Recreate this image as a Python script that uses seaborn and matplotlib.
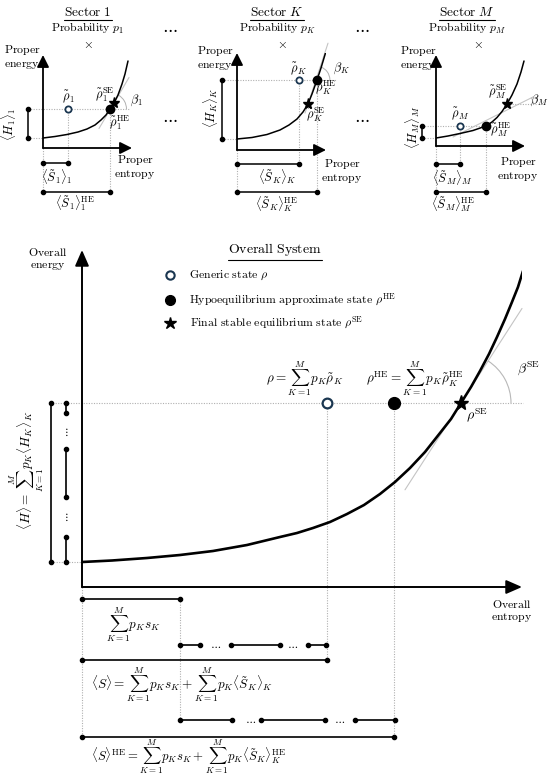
import numpy as np
import pandas as pd
import matplotlib
matplotlib.use("Agg")
import matplotlib.pyplot as plt
import seaborn as sns
from matplotlib.patches import Arc

# ---------------- data (local entropy / energy units) ----------------
main_S = [0, 30, 65, 98, 131, 165, 198, 215, 231, 248, 265, 282, 298, 313, 328, 343, 358, 369, 379, 389, 398, 407, 415, 423, 430, 436, 441]
main_H = [25, 26.5, 29, 32, 36, 42, 50, 54, 59, 65, 73, 82, 93, 105, 119, 135, 154, 168, 184, 200, 216, 233, 250, 268, 285, 300, 316]
main_level = 184          # <H>
main_base = 25            # ground energy
S_generic = 245           # <S>
S_HE = 312                # <S>^HE
S_SE = 379
sum_ps = 98               # sum p_K s_K
row_S_segments = [(98, 118), (149, 198), (226, 244)]
row_S_ellipses = [134, 211]
row_HE_segments = [(98, 150), (179, 243), (273, 313)]
row_HE_ellipses = [169, 258]
col_H_segments = [(184, 174), (138, 90), (50, 25)]
col_H_ellipses = [155, 70]
beta_SE_slope = 1.55

sec1_S = [0, 12, 24, 35, 44, 52, 58, 63, 67, 71, 75, 79, 82, 85]
sec1_H = [10, 11.5, 13.5, 16, 19, 23, 28, 33, 39, 45, 53, 64, 74, 87]
secK_S = [0, 15, 30, 43, 52, 60, 66, 71, 75, 80, 84, 87, 90]
secK_H = [11, 12.5, 15.5, 20, 25, 31, 38, 46, 56, 70, 82, 92, 102]
secM_S = [0, 12, 24, 37, 50, 56, 61, 66, 71, 76, 81, 85, 88]
secM_H = [8, 10, 12.5, 15.5, 20, 24, 28.5, 34.5, 42, 51, 62, 74, 85]

sector_ids = ["1", "K", "M"]
sector_level = [39, 70, 20]
sector_base = [10, 11, 8]
sector_S_generic = [25, 62, 24]
sector_S_HE = [67, 80, 50]
sector_star_S = [71, 71, 71]
sector_star_H = [45, 46, 42]
sector_slope = [1.7, 3.04, 0.5]

# ---------------- style ----------------
sns.set_theme(style="white")
plt.rcParams["mathtext.fontset"] = "cm"
plt.rcParams["font.family"] = ["DejaVu Serif"]
plt.rcParams["lines.solid_joinstyle"] = "round"

FW, FH = 550, 778
fig = plt.figure(figsize=(5.5, 7.78), dpi=100)
fig.patch.set_facecolor("white")

DOT = dict(color="#b0b0b0", lw=0.8, ls=(0, (1, 1.3)), clip_on=False, zorder=1)
GRAY = dict(color="#c4c4c4", lw=0.8, clip_on=False, zorder=1)
CIRC = "#1a3650"


def panel(x0, y0, w, h):
    ax = fig.add_axes([x0 / FW, (FH - y0) / FH, w / FW, h / FH])
    ax.set_xlim(0, w)
    ax.set_ylim(0, h)
    ax.axis("off")
    ax.patch.set_alpha(0)
    return ax


def arrows(ax, w, h, lw, hl, hw):
    st = f"-|>,head_length={hl},head_width={hw}"
    for xy in [(w, 0), (0, h)]:
        ax.annotate("", xy=xy, xytext=(0, 0), annotation_clip=False,
                    arrowprops=dict(arrowstyle=st, color="black", lw=lw,
                                    shrinkA=0, shrinkB=0))


def bar(ax, xs, ys, lw=1.1, ms=3):
    ax.plot(xs, ys, color="black", lw=lw, marker="o", ms=ms, clip_on=False, zorder=3)


def txt(ax, x, y, s, fs=8, **kw):
    kw.setdefault("ha", "center")
    kw.setdefault("va", "center")
    return ax.text(x, y, s, fontsize=fs, color="black", clip_on=False, **kw)


def underline(ax, t, off=1.5, lw=0.8):
    fig.canvas.draw()
    bb = t.get_window_extent()
    inv = ax.transData.inverted()
    (xa, ya), (xb, yb) = inv.transform([[bb.x0, bb.y0], [bb.x1, bb.y1]])
    ax.plot([xa, xb], [ya - off, ya - off], color="black", lw=lw, clip_on=False)


# ---------------- sector panels ----------------
sec_curves = [(sec1_S, sec1_H), (secK_S, secK_H), (secM_S, secM_H)]
sec_layout = [
    dict(origin=(43, 148), h=93, title=(45, 136), prob=(45, 120), times=(45, 104),
         pe=(-21, 91), pent=(92, -19), lrho=(25, 51), lse=(62, 53), lhe=(77, 25),
         lbeta=(93, 48), lH=(-35, 24), lS=(14, -29), lSHE=(32, -55),
         lev=(-15, 87), hx=-15, yS=-15, ySHE=-44, tan=(56, 86), arc="level", r=16),
    dict(origin=(237, 150), h=97, title=(40, 138), prob=(40, 122), times=(45, 106),
         pe=(-22, 92), pent=(105, -21), lrho=(61, 81), lse=(79, 35), lhe=(89, 62),
         lbeta=(104, 82), lH=(-27, 42), lS=(40, -27), lSHE=(40, -54),
         lev=(-15, 100), hx=-15, yS=-14, ySHE=-42, tan=(68, 91), arc="level", r=14),
    dict(origin=(436, 146), h=91, title=(31, 134), prob=(31, 118), times=(42, 102),
         pe=(-18, 88), pent=(82, -23), lrho=(24, 32), lse=(62, 54), lhe=(65, 16),
         lbeta=(103, 46), lH=(-24, 19), lS=(17, -32), lSHE=(17, -58),
         lev=(-14, 50), hx=-14, yS=-18, ySHE=-46, tan=(17, 97), arc="star", r=14),
]

sector_axes = []
for i, k in enumerate(sector_ids):
    L = sec_layout[i]
    ax = panel(L["origin"][0], L["origin"][1], 89, L["h"])
    sector_axes.append(ax)
    arrows(ax, 89, L["h"], 1.3, 0.6, 0.3)
    S, H = sec_curves[i]
    sns.lineplot(x=S, y=H, ax=ax, color="black", lw=1.1, sort=False, estimator=None)
    lev, base = sector_level[i], sector_base[i]
    sg, she = sector_S_generic[i], sector_S_HE[i]
    ss, sh = sector_star_S[i], sector_star_H[i]
    m = sector_slope[i]
    sub = k
    # dotted guides
    ax.plot(list(L["lev"]), [lev, lev], **DOT)
    ax.plot([L["hx"], 0], [base, base], **DOT)
    ax.plot([0, 0], [0, L["ySHE"]], **DOT)
    ax.plot([sg, sg], [lev, L["yS"]], **DOT)
    ax.plot([she, she], [lev, L["ySHE"]], **DOT)
    # tangent + angle
    t0, t1 = L["tan"]
    if L["arc"] == "level":
        ax.plot([t0, t1], [sh + m * (t0 - ss), sh + m * (t1 - ss)], **GRAY)
        cx, cy = ss + (lev - sh) / m, lev
    else:
        # tangent near the HE state, angle measured on the SE level
        y0 = lev - 11
        ax.plot([t0, t1], [y0, y0 + m * (t1 - t0)], **GRAY)
        cx, cy = t0 + (sh - y0) / m, sh
        ax.plot([ss, cx + L["r"] + 3], [sh, sh], **DOT)
    ang = np.degrees(np.arctan(m))
    ax.add_patch(Arc((cx, cy), 2 * L["r"], 2 * L["r"], theta1=0, theta2=ang,
                     color="#b0b0b0", lw=0.7, clip_on=False))
    # bars
    bar(ax, [L["hx"], L["hx"]], [base, lev])
    bar(ax, [0, sg], [L["yS"], L["yS"]])
    bar(ax, [0, she], [L["ySHE"], L["ySHE"]])
    # states
    ax.plot([sg], [lev], marker="o", ms=4.5, mfc="white", mec=CIRC, mew=1.3, clip_on=False, zorder=5)
    ax.plot([she], [lev], marker="o", ms=6, color="black", clip_on=False, zorder=5)
    ax.plot([ss], [sh], marker="*", ms=8, color="black", clip_on=False, zorder=6)
    # texts
    tt = txt(ax, *L["title"], r"$\mathrm{Sector}\ " + (r"\mathrm{1}" if k == "1" else k) + "$", fs=9.5)
    underline(ax, tt)
    txt(ax, *L["prob"], r"$\mathrm{Probability}\ p_{" + sub + "}$", fs=8.5)
    txt(ax, *L["times"], r"$\times$", fs=9)
    txt(ax, *L["pe"], "$\\mathrm{Proper}$\n$\\mathrm{energy}$", fs=8.5, linespacing=1.0)
    txt(ax, *L["pent"], "$\\mathrm{Proper}$\n$\\mathrm{entropy}$", fs=8.5, linespacing=1.0)
    txt(ax, *L["lrho"], r"$\tilde{\rho}_{" + sub + "}$", fs=9)
    txt(ax, *L["lse"], r"$\tilde{\rho}_{" + sub + r"}^{\mathrm{SE}}$", fs=9)
    txt(ax, *L["lhe"], r"$\tilde{\rho}_{" + sub + r"}^{\mathrm{HE}}$", fs=9)
    txt(ax, *L["lbeta"], r"$\beta_{" + sub + "}$", fs=9)
    txt(ax, *L["lH"], r"$\langle H_{" + sub + r"}\rangle_{" + sub + "}$", fs=9, rotation=90)
    txt(ax, *L["lS"], r"$\langle \tilde{S}_{" + sub + r"}\rangle_{" + sub + "}$", fs=9)
    txt(ax, *L["lSHE"], r"$\langle \tilde{S}_{" + sub + r"}\rangle_{" + sub + r"}^{\mathrm{HE}}$", fs=9)

# ellipses between sectors
ax1 = sector_axes[0]
axK = sector_axes[1]
for y in (120, 30):
    txt(ax1, 127, y, r"$\cdots$", fs=12)
for y in (122, 32):
    txt(axK, 125, y, r"$\cdots$", fs=12)

# ---------------- main panel ----------------
W, Hh = 440, 337
ax = panel(82, 587, W, Hh)
arrows(ax, W, Hh, 1.4, 0.8, 0.35)
sns.lineplot(x=main_S, y=main_H, ax=ax, color="black", lw=1.9, sort=False, estimator=None)

# guides
ax.plot([-32, 441], [main_level, main_level], **DOT)
ax.plot([-31, 0], [main_base, main_base], **DOT)
ax.plot([0, 0], [0, -150], **DOT)
ax.plot([sum_ps, sum_ps], [-12, -133], **DOT)
ax.plot([S_generic, S_generic], [main_level, -73], **DOT)
ax.plot([S_HE, S_HE], [main_level, -150], **DOT)

# tangent & beta
t0, t1 = 323, 440
ax.plot([t0, t1], [main_level + beta_SE_slope * (t0 - S_SE), main_level + beta_SE_slope * (t1 - S_SE)], **GRAY)
ax.add_patch(Arc((S_SE, main_level), 100, 100, theta1=0,
                 theta2=np.degrees(np.arctan(beta_SE_slope)), color="#b8b8b8", lw=0.8, clip_on=False))

# states
ax.plot([S_generic], [main_level], marker="o", ms=7, mfc="white", mec=CIRC, mew=1.6, clip_on=False, zorder=5)
ax.plot([S_HE], [main_level], marker="o", ms=8.5, color="black", clip_on=False, zorder=5)
ax.plot([S_SE], [main_level], marker="*", ms=11, color="black", clip_on=False, zorder=6)

# left energy bars
bar(ax, [-31, -31], [main_base, main_level], lw=1.2)
for a, b in col_H_segments:
    bar(ax, [-16, -16], [a, b], lw=1.2)
for y in col_H_ellipses:
    txt(ax, -16, y, r"$\vdots$", fs=8)
txt(ax, -55, 117, r"$\langle H\rangle=\sum_{K=1}^{M}p_K\langle H_K\rangle_K$", fs=9.5, rotation=90)

# bottom entropy bars
bar(ax, [0, sum_ps], [-12, -12], lw=1.2)
txt(ax, 51, -38, r"$\sum_{K=1}^{M}p_K s_K$", fs=9.5)
for a, b in row_S_segments:
    bar(ax, [a, b], [-58, -58], lw=1.2)
for x in row_S_ellipses:
    txt(ax, x, -58, r"$\cdots$", fs=8)
bar(ax, [0, S_generic], [-73, -73], lw=1.2)
txt(ax, 9, -98, r"$\langle S\rangle=\sum_{K=1}^{M}p_K s_K+\sum_{K=1}^{M}p_K\langle\tilde{S}_K\rangle_K$",
    fs=9.5, ha="left")
for a, b in row_HE_segments:
    bar(ax, [a, b], [-133, -133], lw=1.2)
for x in row_HE_ellipses:
    txt(ax, x, -133, r"$\cdots$", fs=8)
bar(ax, [0, S_HE], [-150, -150], lw=1.2)
txt(ax, 9, -170, r"$\langle S\rangle^{\mathrm{HE}}=\sum_{K=1}^{M}p_K s_K+\sum_{K=1}^{M}p_K\langle\tilde{S}_K\rangle_K^{\mathrm{HE}}$",
    fs=9.2, ha="left")

# axis labels
txt(ax, -34, 328, "$\\mathrm{Overall}$\n$\\mathrm{energy}$", fs=8.5, linespacing=1.0)
txt(ax, 430, -24, "$\\mathrm{Overall}$\n$\\mathrm{entropy}$", fs=8.5, linespacing=1.0)

# title + legend
tt = txt(ax, 193, 337, r"$\mathrm{Overall\ System}$", fs=10)
underline(ax, tt, off=1.0)
leg_y = [312, 287, 264]
ax.plot([88], [leg_y[0]], marker="o", ms=6, mfc="white", mec=CIRC, mew=1.5, clip_on=False)
ax.plot([88], [leg_y[1]], marker="o", ms=7, color="black", clip_on=False)
ax.plot([88], [leg_y[2]], marker="*", ms=9, color="black", clip_on=False)
txt(ax, 107, leg_y[0], r"$\mathrm{Generic\ state}\ \rho$", fs=8.5, ha="left")
txt(ax, 107, leg_y[1], r"$\mathrm{Hypoequilibrium\ approximate\ state}\ \rho^{\mathrm{HE}}$", fs=8.5, ha="left")
txt(ax, 108, leg_y[2], r"$\mathrm{Final\ stable\ equilibrium\ state}\ \rho^{\mathrm{SE}}$", fs=8.5, ha="left")

# formulas
txt(ax, 223, 208, r"$\rho=\sum_{K=1}^{M}p_K\tilde{\rho}_K$", fs=9.5)
txt(ax, 333, 208, r"$\rho^{\mathrm{HE}}=\sum_{K=1}^{M}p_K\tilde{\rho}_K^{\mathrm{HE}}$", fs=9.5)
txt(ax, 395, 172, r"$\rho^{\mathrm{SE}}$", fs=10)
txt(ax, 447, 219, r"$\beta^{\mathrm{SE}}$", fs=10)

fig.savefig("out.png", dpi=100, facecolor="white")
